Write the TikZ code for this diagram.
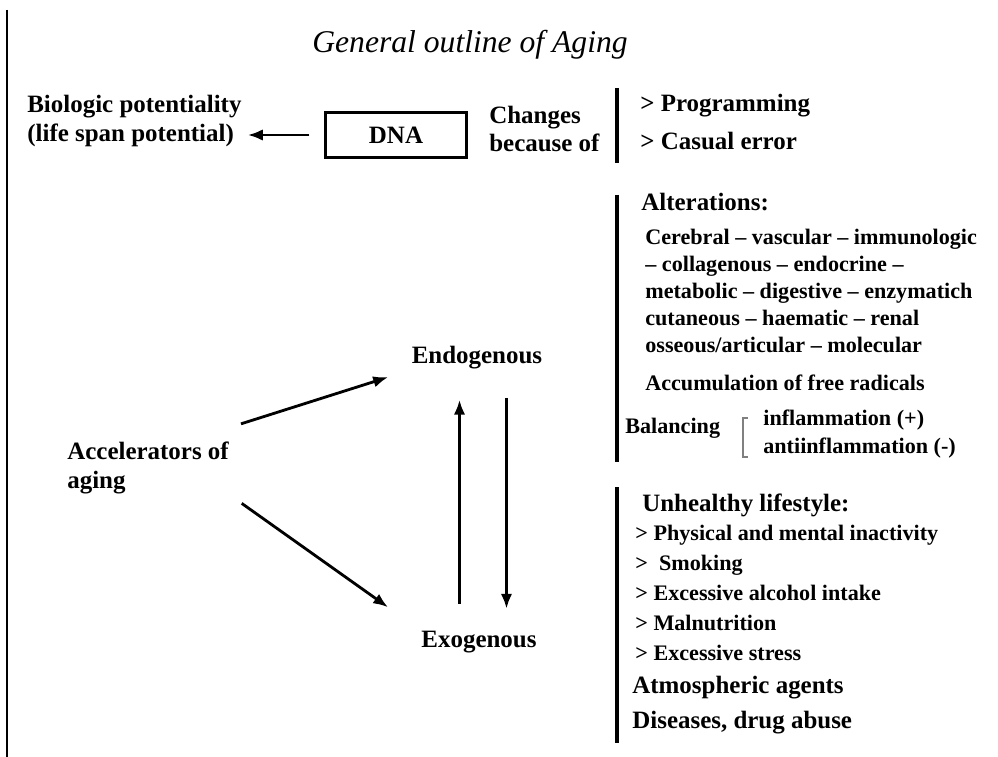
\documentclass[tikz,border=0pt]{standalone}
\usepackage{fontspec}
\setmainfont{Liberation Serif}
\usetikzlibrary{arrows.meta}
\tikzset{
  txt/.style={font=\bfseries\fontsize{14.2}{16.5}\selectfont,inner sep=0pt,anchor=west,align=left},
  sml/.style={font=\bfseries\fontsize{12.6}{15.3}\selectfont,inner sep=0pt,anchor=west,align=left},
  arr/.style={line width=1.6pt,-{Latex[length=8.5pt,width=6.5pt]}},
  bar/.style={line width=2.2pt}
}
\begin{document}
\begin{tikzpicture}[x=0.02cm,y=-0.02cm]
\useasboundingbox (0,0) rectangle (998,757);
\draw [line width=1.2pt](7,10) -- (7,757);
\node (title) at (470,45) {\fontsize{18}{20}\selectfont\itshape General outline of Aging};
\node[txt,font=\bfseries\fontsize{14.2}{17}\selectfont] (bio) at (27,121) {Biologic potentiality\\(life span potential)};
\node[draw,line width=1.4pt,minimum width=2.82cm,minimum height=0.9cm,font=\bfseries\fontsize{14.2}{16}\selectfont] (dna) at (396,135) {DNA};
\node[txt,font=\bfseries\fontsize{14.2}{16}\selectfont] (chg) at (489,129) {Changes\\because of};
\draw [bar](617,88) -- (617,163);
\node[txt] (prog) at (640,106) {> Programming};
\node[txt] (err) at (640,141) {> Casual error};
\draw [bar](617,195) -- (617,462);
\node[txt] (alt) at (641,202) {Alterations:};
\node[sml] (organs) at (645,291) {Cerebral – vascular – immunologic\\– collagenous – endocrine –\\metabolic – digestive – enzymatich\\cutaneous – haematic – renal\\osseous/articular – molecular};
\node[sml] (rad) at (645,383) {Accumulation of free radicals};
\node[sml] (bal) at (625,428) {Balancing};
\draw [gray,line width=0.8pt](748,418) -- (743,418) -- (743,457) -- (748,457);
\node[sml] (infl) at (763,420) {inflammation (+)};
\node[sml] (anti) at (763,448) {antiinflammation (-)};
\draw [bar](617,487) -- (617,743);
\node[txt] (life) at (642,505) {Unhealthy lifestyle:};
\node[sml] (phys) at (635,535) {> Physical and mental inactivity};
\node[sml] (smok) at (635,565) {> \ Smoking};
\node[sml] (alc) at (635,593) {> Excessive alcohol intake};
\node[sml] (mal) at (635,623) {> Malnutrition};
\node[sml] (str) at (635,653) {> Excessive stress};
\node[txt] (atm) at (632,688) {Atmospheric agents};
\node[txt] (dis) at (632,723) {Diseases, drug abuse};
\node[txt,anchor=center] (endo) at (477,358) {Endogenous};
\node[txt,anchor=center] (exo) at (479,642) {Exogenous};
\node[txt] (acc) at (67,468) {Accelerators of\\aging};
\draw [arr,shorten <=0.3cm,shorten >=0.12cm](dna.west) -- (dna.west -| bio.east);
\draw [arr,shorten <=0.25cm,shorten >=0.49cm]([yshift=0.28cm]acc.north east) -- (endo.south west);
\draw [arr,shorten <=0.31cm,shorten >=0.81cm](acc.south east) -- (exo.north west);
\draw [arr,shorten <=0.54cm,shorten >=0.6cm]([xshift=-0.39cm]exo.north) -- ([xshift=-0.39cm]exo.north |- endo.south);
\draw [arr,shorten <=0.56cm,shorten >=0.44cm]([xshift=0.59cm]endo.south) -- ([xshift=0.59cm]endo.south |- exo.north);
\end{tikzpicture}
\end{document}
